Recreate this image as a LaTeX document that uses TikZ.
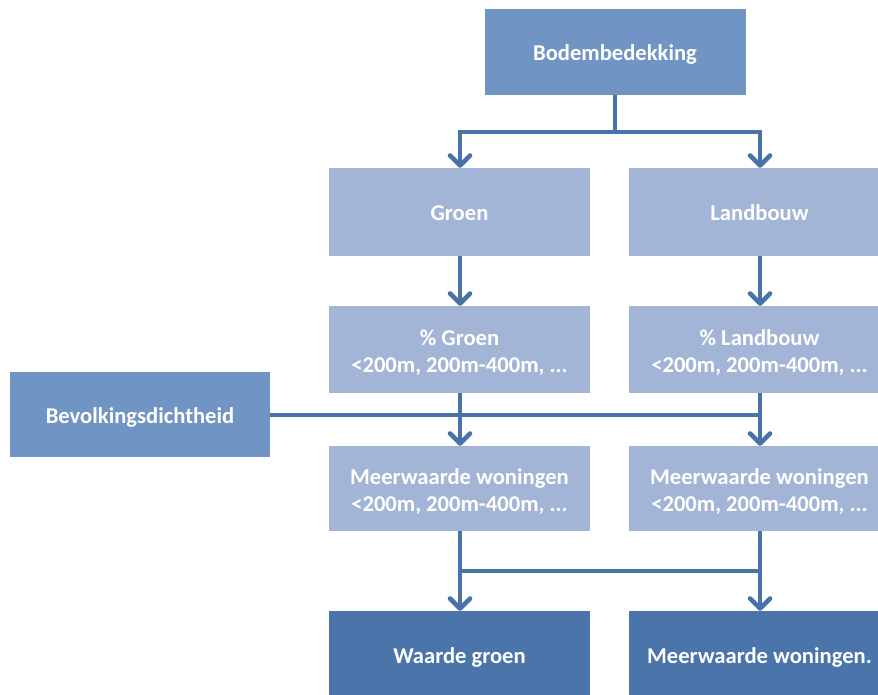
\documentclass[tikz,border=0pt]{standalone}
\usepackage{fontspec}
\setmainfont{Carlito}
\usetikzlibrary{arrows.meta}
\definecolor{boxmid}{HTML}{7094C4}
\definecolor{boxlight}{HTML}{A3B5D6}
\definecolor{boxdark}{HTML}{4A74AA}
\definecolor{linkblue}{HTML}{4872A8}
\begin{document}
\begin{tikzpicture}[x=1pt,y=-1pt,
  box/.style={rectangle, inner sep=0pt, minimum width=261pt, minimum height=86pt,
    text=white, align=center,
    font=\fontsize{22.6}{27}\selectfont\bfseries},
  oneline/.style={box, text height=20pt, text depth=2pt},
  twoline/.style={box, text height=47pt, text depth=2pt},
  link/.style={draw=linkblue, line width=4.6pt},
  arr/.style={link, -{Straight Barb[length=10pt,width=20pt,line width=4.6pt,round]}}]
\useasboundingbox (0,0) rectangle (878,695);
% boxes
\node[oneline, fill=boxmid]   (bode) at (615,52)    {Bodembedekking};
\node[oneline, fill=boxlight, minimum height=88pt] (groen) at (459.5,212) {Groen};
\node[oneline, fill=boxlight, minimum height=88pt] (land)  at (759.5,212) {Landbouw};
\node[twoline, fill=boxlight, minimum height=87pt] (pgroen) at (459.5,349.5) {\% Groen\\<200m, 200m-400m, ...};
\node[twoline, fill=boxlight, minimum height=87pt] (pland)  at (759.5,349.5) {\% Landbouw\\<200m, 200m-400m, ...};
\node[oneline, fill=boxmid, minimum width=260pt, minimum height=85pt] (bev) at (140,414.5) {Bevolkingsdichtheid};
\node[twoline, fill=boxlight, minimum height=85pt] (mgroen) at (459.5,488.5) {Meerwaarde woningen\\<200m, 200m-400m, ...};
\node[twoline, fill=boxlight, minimum height=85pt] (mland)  at (759.5,488.5) {Meerwaarde woningen\\<200m, 200m-400m, ...};
\node[oneline, fill=boxdark, minimum height=86pt] (wgroen) at (459.5,654) {Waarde groen};
\node[oneline, fill=boxdark, minimum height=86pt] (wland)  at (759.5,654) {Meerwaarde woningen.};
% connectors
\coordinate (split1) at (615,132);
\draw[link] (bode.south) -- (split1);
\draw[arr] (split1) -| ([xshift=0.5pt]groen.north);
\draw[arr] (split1) -| ([xshift=0.5pt]land.north);
\draw[arr] ([xshift=0.5pt]groen.south) -- ([xshift=0.5pt]pgroen.north);
\draw[arr] ([xshift=0.5pt]land.south) -- ([xshift=0.5pt]pland.north);
\draw[arr] ([xshift=0.5pt]pgroen.south) -- ([xshift=0.5pt]mgroen.north);
\draw[arr] ([xshift=0.5pt]pland.south) -- ([xshift=0.5pt]mland.north);
\draw[link] (bev.east |- 0,415) -- ([xshift=0.5pt]pland.south |- 0,415);
\draw[arr] ([xshift=0.5pt]mgroen.south) -- ([xshift=0.5pt]wgroen.north);
\draw[arr] ([xshift=0.5pt]mland.south) -- ([xshift=0.5pt]wland.north);
\draw[link] ([xshift=0.5pt]mgroen.south |- 0,571) -- ([xshift=0.5pt]mland.south |- 0,571);
\end{tikzpicture}
\end{document}
